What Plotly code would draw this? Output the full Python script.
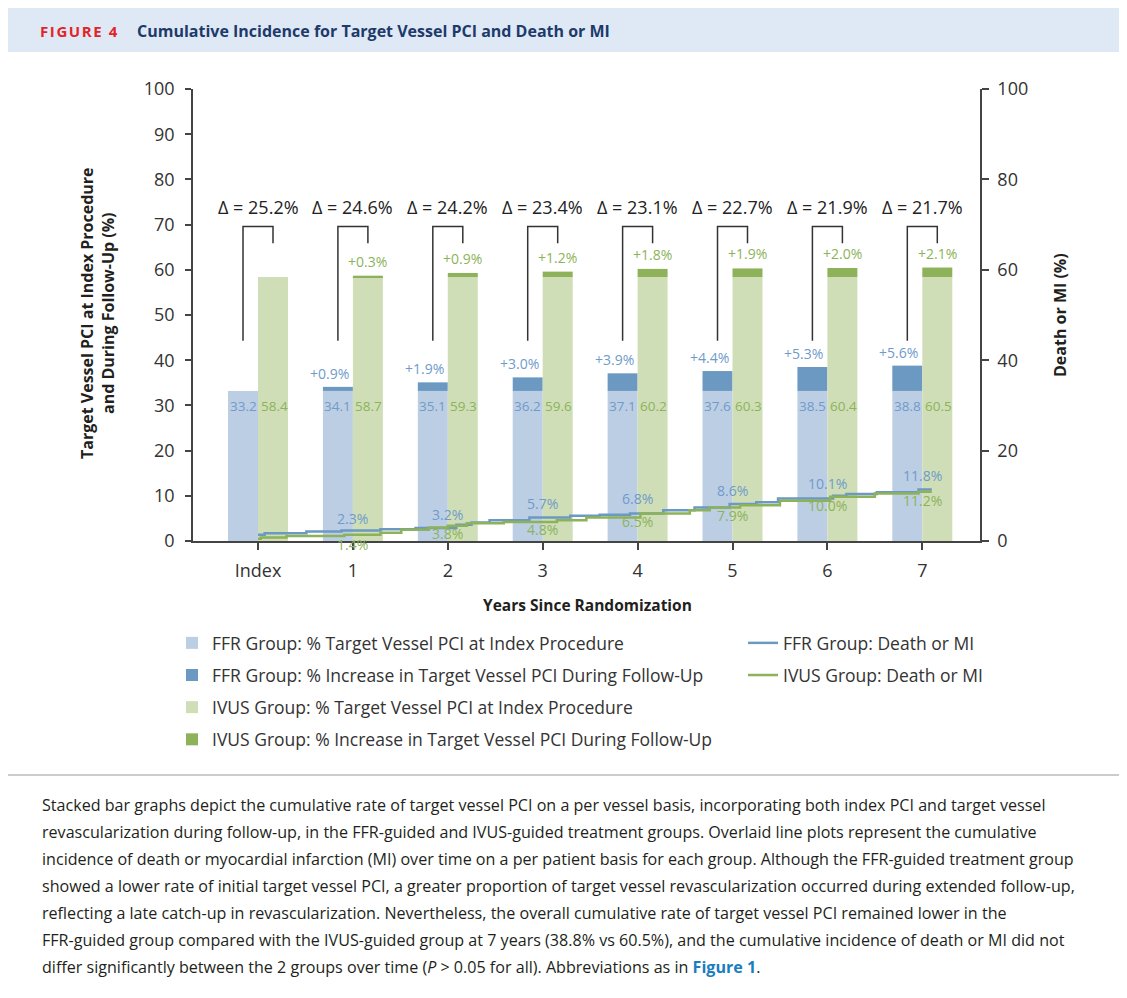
import plotly.graph_objects as go

# ---------------- data ----------------
years = [0, 1, 2, 3, 4, 5, 6, 7]
year_labels = ["Index", "1", "2", "3", "4", "5", "6", "7"]

ffr_index = [33.2, 33.2, 33.2, 33.2, 33.2, 33.2, 33.2, 33.2]
ffr_increase = [0.0, 0.9, 1.9, 3.0, 3.9, 4.4, 5.3, 5.6]
ffr_total = [33.2, 34.1, 35.1, 36.2, 37.1, 37.6, 38.5, 38.8]

ivus_index = [58.4, 58.4, 58.4, 58.4, 58.4, 58.4, 58.4, 58.4]
ivus_increase = [0.0, 0.3, 0.9, 1.2, 1.8, 1.9, 2.0, 2.1]
ivus_total = [58.4, 58.7, 59.3, 59.6, 60.2, 60.3, 60.4, 60.5]

delta = [25.2, 24.6, 24.2, 23.4, 23.1, 22.7, 21.9, 21.7]

# death or MI labels at each year
ffr_dmi_label = [None, 2.3, 3.2, 5.7, 6.8, 8.6, 10.1, 11.8]
ivus_dmi_label = [None, 1.4, 3.8, 4.8, 6.5, 7.9, 10.0, 11.2]

# step curves (time in years, cumulative %)
ffr_t = [0.0, 0.07, 0.51, 0.88, 1.29, 1.66, 2.09, 2.25, 2.44, 2.86, 3.29, 3.60, 3.92,
         4.27, 4.60, 4.97, 5.25, 5.48, 6.06, 6.20, 6.52, 6.96, 7.10]
ffr_v = [1.4, 1.7, 2.1, 2.3, 2.6, 2.9, 3.6, 4.1, 4.6, 5.2, 5.6, 5.8, 6.1,
         6.8, 7.4, 8.2, 8.6, 9.4, 10.0, 10.4, 10.8, 11.4, 11.4]
ivus_t = [0.0, 0.03, 0.30, 0.91, 1.29, 1.51, 1.80, 2.00, 2.20, 2.59, 3.15, 3.46, 4.03,
          4.55, 4.76, 5.08, 5.50, 6.03, 6.50, 6.96, 7.10]
ivus_v = [0.5, 0.8, 1.1, 1.4, 1.8, 2.5, 3.0, 3.4, 3.9, 4.2, 4.6, 5.2, 6.1,
          6.8, 7.4, 7.9, 8.9, 9.8, 10.5, 10.9, 10.9]

# ---------------- styling ----------------
C_FFR_L = "#bccee3"
C_FFR_D = "#6b99c2"
C_IVUS_L = "#cfdeb7"
C_IVUS_D = "#8db259"
C_FFR_TXT = "#6f9bcb"
C_IVUS_TXT = "#8cb35a"
AX = "#444444"
TXT = "#231f20"
NUM_FONT = "Open Sans"
TXT_FONT = "Open Sans"

# the page body adds an 8 px margin; work in reference-page pixels
OFF = 8
FIG_W, FIG_H = 1127 - OFF, 998 - 2 * OFF
# plot area in reference-page pixels
L, R, T, B = 193, 980, 89, 541
W, H = R - L, B - T


def px_x(px):
    return (px - L) / W


def px_y(py):
    return (B - py) / H


BW = 0.316  # bar width in year units

fig = go.Figure()

fig.add_trace(go.Bar(x=years, y=ffr_index, width=BW, offset=-BW, marker_color=C_FFR_L,
                     marker_line_width=0,
                     name="FFR Group: % Target Vessel PCI at Index Procedure",
                     legend="legend", legendgroup="a"))
fig.add_trace(go.Bar(x=years, y=ffr_increase, base=ffr_index, width=BW, offset=-BW,
                     marker_color=C_FFR_D, marker_line_width=0,
                     name="FFR Group: % Increase in Target Vessel PCI During Follow-Up",
                     legend="legend", legendgroup="b"))
fig.add_trace(go.Bar(x=years, y=ivus_index, width=BW, offset=0, marker_color=C_IVUS_L,
                     marker_line_width=0,
                     name="IVUS Group: % Target Vessel PCI at Index Procedure",
                     legend="legend", legendgroup="c"))
fig.add_trace(go.Bar(x=years, y=ivus_increase, base=ivus_index, width=BW, offset=0,
                     marker_color=C_IVUS_D, marker_line_width=0,
                     name="IVUS Group: % Increase in Target Vessel PCI During Follow-Up",
                     legend="legend", legendgroup="d"))

fig.add_trace(go.Scatter(x=ffr_t, y=ffr_v, mode="lines", line=dict(color=C_FFR_D, width=2.5, shape="hv"),
                         name="FFR Group: Death or MI", yaxis="y2",
                         legend="legend2", legendgroup="e"))
fig.add_trace(go.Scatter(x=ivus_t, y=ivus_v, mode="lines", line=dict(color=C_IVUS_D, width=2.5, shape="hv"),
                         name="IVUS Group: Death or MI", yaxis="y2",
                         legend="legend2", legendgroup="f"))

ann = []
shapes = []

# bar annotations
for i, yr in enumerate(years):
    ann.append(dict(x=yr, y=ffr_index[i], xref="x", yref="y", text=f"{ffr_total[i]:.1f}",
                    showarrow=False, xanchor="center", yanchor="top", xshift=-15, yshift=-4,
                    font=dict(family=NUM_FONT, size=13.5, color=C_FFR_TXT)))
    ann.append(dict(x=yr, y=ffr_index[i], xref="x", yref="y", text=f"{ivus_total[i]:.1f}",
                    showarrow=False, xanchor="center", yanchor="top", xshift=16, yshift=-4,
                    font=dict(family=NUM_FONT, size=13.5, color=C_IVUS_TXT)))
    if ffr_increase[i] > 0:
        ann.append(dict(x=yr, y=ffr_total[i], xref="x", yref="y", text=f"+{ffr_increase[i]:.1f}%",
                        showarrow=False, xanchor="right", yanchor="bottom", xshift=-2, yshift=2,
                        font=dict(family=NUM_FONT, size=14, color=C_FFR_TXT)))
    if ivus_increase[i] > 0:
        ann.append(dict(x=yr, y=ivus_total[i], xref="x", yref="y", text=f"+{ivus_increase[i]:.1f}%",
                        showarrow=False, xanchor="center", yanchor="bottom", xshift=15, yshift=3,
                        font=dict(family=NUM_FONT, size=14, color=C_IVUS_TXT)))
    # delta and bracket
    ann.append(dict(x=yr, y=73.8, xref="x", yref="y", text=f"\u0394 = {delta[i]:.1f}%",
                    showarrow=False, xanchor="center", yanchor="middle",
                    font=dict(family=NUM_FONT, size=18, color="#222222")))
    shapes.append(dict(type="path", xref="x", yref="y",
                       path=f"M {yr - BW/2},44.3 L {yr - BW/2},69.6 L {yr + BW/2},69.6 L {yr + BW/2},65.9",
                       line=dict(color="#333333", width=1.5), layer="above"))
    if ffr_dmi_label[i] is not None:
        ann.append(dict(x=yr, y=ffr_dmi_label[i], xref="x", yref="y2", text=f"{ffr_dmi_label[i]:.1f}%",
                        showarrow=False, xanchor="center", yanchor="middle", yshift=12,
                        font=dict(family=NUM_FONT, size=14, color=C_FFR_TXT)))
        ann.append(dict(x=yr, y=ivus_dmi_label[i], xref="x", yref="y2", text=f"{ivus_dmi_label[i]:.1f}%",
                        showarrow=False, xanchor="center", yanchor="middle", yshift=-10,
                        font=dict(family=NUM_FONT, size=14, color=C_IVUS_TXT)))

# axis titles
ann.append(dict(x=px_x(97), y=px_y(313), xref="paper", yref="paper",
                text="<b>Target Vessel PCI at Index Procedure<br>and During Follow-Up (%)</b>",
                textangle=-90, showarrow=False, xanchor="center", yanchor="middle",
                font=dict(family=TXT_FONT, size=16, color=TXT)))
ann.append(dict(x=px_x(1060), y=px_y(315), xref="paper", yref="paper",
                text="<b>Death or MI (%)</b>", textangle=-90, showarrow=False,
                xanchor="center", yanchor="middle",
                font=dict(family=TXT_FONT, size=16, color=TXT)))
ann.append(dict(x=px_x(587), y=px_y(605), xref="paper", yref="paper",
                text="<b>Years Since Randomization</b>", showarrow=False,
                xanchor="center", yanchor="middle",
                font=dict(family=TXT_FONT, size=15.5, color=TXT)))

# header
shapes.append(dict(type="rect", xref="paper", yref="paper", x0=px_x(7), x1=px_x(1127),
                   y0=px_y(52), y1=px_y(7), fillcolor="#dfe9f5", line=dict(width=0), layer="below"))
shapes.append(dict(type="line", xref="paper", yref="paper", x0=px_x(7), x1=px_x(1127),
                   y0=px_y(7), y1=px_y(7), line=dict(color="#9a9a9a", width=1.5)))
shapes.append(dict(type="line", xref="paper", yref="paper", x0=px_x(7), x1=px_x(7),
                   y0=px_y(7), y1=px_y(998), line=dict(color="#9a9a9a", width=1.5)))
shapes.append(dict(type="line", xref="paper", yref="paper", x0=px_x(7), x1=px_x(1127),
                   y0=px_y(775), y1=px_y(775), line=dict(color="#9a9a9a", width=1.2)))

ann.append(dict(x=px_x(38), y=px_y(31), xref="paper", yref="paper",
                text="<b><span style='letter-spacing:1.6px'>FIGURE 4</span></b>",
                showarrow=False, xanchor="left", yanchor="middle",
                font=dict(family=TXT_FONT, size=15, color="#e3232a")))
ann.append(dict(x=px_x(135), y=px_y(31), xref="paper", yref="paper",
                text="<b>Cumulative Incidence for Target Vessel PCI and Death or MI</b>",
                showarrow=False, xanchor="left", yanchor="middle",
                font=dict(family=TXT_FONT, size=16, color="#1d3a6b")))

caption = [
    "Stacked bar graphs depict the cumulative rate of target vessel PCI on a per vessel basis, incorporating both index PCI and target vessel",
    "revascularization during follow-up, in the FFR-guided and IVUS-guided treatment groups. Overlaid line plots represent the cumulative",
    "incidence of death or myocardial infarction (MI) over time on a per patient basis for each group. Although the FFR-guided treatment group",
    "showed a lower rate of initial target vessel PCI, a greater proportion of target vessel revascularization occurred during extended follow-up,",
    "reflecting a late catch-up in revascularization. Nevertheless, the overall cumulative rate of target vessel PCI remained lower in the",
    "FFR-guided group compared with the IVUS-guided group at 7 years (38.8% vs 60.5%), and the cumulative incidence of death or MI did not",
    "differ significantly between the 2 groups over time (<i>P</i> &gt; 0.05 for all). Abbreviations as in <b><span style='color:#1a7dc0'>Figure 1</span></b>.",
]
for k, line in enumerate(caption):
    ann.append(dict(x=px_x(40), y=px_y(805 + 27 * k), xref="paper", yref="paper", text=line,
                    showarrow=False, xanchor="left", yanchor="middle",
                    font=dict(family=TXT_FONT, size=16.1, color=TXT)))

axis_common = dict(showline=True, linecolor=AX, linewidth=1.5, ticks="outside", tickcolor=AX,
                   tickwidth=1.5, showgrid=False, zeroline=False,
                   tickfont=dict(family=NUM_FONT, size=18, color="#333333"))

fig.update_layout(
    width=FIG_W, height=FIG_H,
    margin=dict(l=L - OFF, r=(1127 - R), t=T - OFF, b=(998 - OFF) - B, pad=0),
    paper_bgcolor="white", plot_bgcolor="white",
    barmode="overlay",
    xaxis=dict(range=[-0.685, 7.608], tickmode="array", tickvals=years, ticktext=year_labels,
               ticklen=7, ticklabelstandoff=6, **axis_common),
    yaxis=dict(range=[0, 100], tickmode="array", tickvals=list(range(0, 101, 10)), ticklen=6,
               ticklabelstandoff=7, **axis_common),
    yaxis2=dict(range=[0, 100], overlaying="y", side="right", tickmode="array",
                tickvals=list(range(0, 101, 20)), ticklen=7, ticklabelstandoff=5, **axis_common),
    legend=dict(x=px_x(172), y=px_y(625), xanchor="left", yanchor="top", orientation="v",
                traceorder="grouped", tracegroupgap=6.4, bgcolor="rgba(0,0,0,0)",
                font=dict(family=TXT_FONT, size=17.5, color="#333333"), itemwidth=30),
    legend2=dict(x=px_x(743), y=px_y(625), xanchor="left", yanchor="top", orientation="v",
                 traceorder="grouped", tracegroupgap=6.4, bgcolor="rgba(0,0,0,0)",
                 font=dict(family=TXT_FONT, size=17.5, color="#333333"), itemwidth=30),
    annotations=ann,
    shapes=shapes,
    showlegend=True,
)

fig.write_html("out.html")
